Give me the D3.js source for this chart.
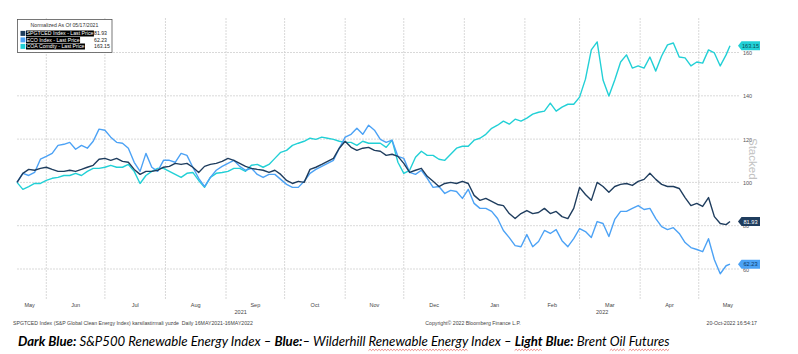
<!DOCTYPE html>
<html>
<head>
<meta charset="utf-8">
<script src="https://cdn.jsdelivr.net/npm/d3@7"></script>
<style>
  body { margin: 0; background: #fff; }
  svg { display: block; }
</style>
</head>
<body>
<svg id="chart" width="798" height="354"></svg>
<script>
// every 3rd calendar day, 17 May 2021 .. 17 May 2022 (normalised to 100 on the first day)
const dates = [
  "2021-05-17","2021-05-20","2021-05-23","2021-05-26","2021-05-29","2021-06-01","2021-06-04","2021-06-07",
  "2021-06-10","2021-06-13","2021-06-16","2021-06-19","2021-06-22","2021-06-25","2021-06-28","2021-07-01",
  "2021-07-04","2021-07-07","2021-07-10","2021-07-13","2021-07-16","2021-07-19","2021-07-22","2021-07-25",
  "2021-07-28","2021-07-31","2021-08-03","2021-08-06","2021-08-09","2021-08-12","2021-08-15","2021-08-18",
  "2021-08-21","2021-08-24","2021-08-27","2021-08-30","2021-09-02","2021-09-05","2021-09-08","2021-09-11",
  "2021-09-14","2021-09-17","2021-09-20","2021-09-23","2021-09-26","2021-09-29","2021-10-02","2021-10-05",
  "2021-10-08","2021-10-11","2021-10-14","2021-10-17","2021-10-20","2021-10-23","2021-10-26","2021-10-29",
  "2021-11-01","2021-11-04","2021-11-07","2021-11-10","2021-11-13","2021-11-16","2021-11-19","2021-11-22",
  "2021-11-25","2021-11-28","2021-12-01","2021-12-04","2021-12-07","2021-12-10","2021-12-13","2021-12-16",
  "2021-12-19","2021-12-22","2021-12-25","2021-12-28","2021-12-31","2022-01-03","2022-01-06","2022-01-09",
  "2022-01-12","2022-01-15","2022-01-18","2022-01-21","2022-01-24","2022-01-27","2022-01-30","2022-02-02",
  "2022-02-05","2022-02-08","2022-02-11","2022-02-14","2022-02-17","2022-02-20","2022-02-23","2022-02-26",
  "2022-03-01","2022-03-04","2022-03-07","2022-03-10","2022-03-13","2022-03-16","2022-03-19","2022-03-22",
  "2022-03-25","2022-03-28","2022-03-31","2022-04-03","2022-04-06","2022-04-09","2022-04-12","2022-04-15",
  "2022-04-18","2022-04-21","2022-04-24","2022-04-27","2022-04-30","2022-05-03","2022-05-06","2022-05-09",
  "2022-05-12","2022-05-15","2022-05-17"
];

const spgtced = [
  100,104.2,106.0,105.6,106.5,107.0,106.0,105.1,105.1,105.6,105.1,106.0,107.0,107.9,110.7,111.1,
  110.2,111.1,109.7,109.3,106.0,103.7,105.1,105.1,105.6,107.0,107.4,108.8,108.3,108.8,107.0,104.6,
  107.4,108.3,108.8,109.7,111.1,110.2,108.8,107.4,106.5,106.0,105.6,104.6,105.6,103.7,100.9,99.5,
  100.5,100.0,106.0,107.0,108.3,109.7,111.1,115.8,119.0,116.2,114.8,115.8,116.2,114.8,114.4,112.5,
  113.0,112.0,108.8,104.6,105.6,106.5,102.8,100.5,98.1,99.5,100.0,99.5,100.5,99.5,94.0,91.7,
  92.6,91.2,89.8,89.3,85.6,83.3,85.6,87.0,85.6,86.1,88.0,85.6,86.6,84.2,83.3,88.0,
  97.7,94.4,91.7,100.0,98.1,95.4,98.1,99.1,99.5,98.6,100.5,101.4,104.2,101.4,99.1,98.1,
  98.1,97.2,93.0,89.3,90.3,88.9,93.0,84.2,81.0,80.5,81.93
];

const eco = [
  100,104.2,103.2,104.6,110.7,112.0,113.4,117.1,117.6,118.5,115.3,117.1,115.8,119.0,124.6,124.1,
  120.9,118.5,118.1,115.8,109.3,105.1,113.4,107.0,105.1,110.2,110.2,109.3,113.4,112.5,107.0,101.9,
  98.1,102.3,105.6,107.4,108.8,110.2,107.4,105.6,106.5,103.7,102.3,103.7,103.7,101.4,99.1,97.7,
  97.7,100.5,104.2,106.0,107.4,108.8,110.2,115.8,120.9,122.2,125.0,122.2,126.4,124.1,119.9,118.5,
  119.5,112.0,111.1,104.6,103.7,105.6,101.9,97.7,98.1,94.9,96.3,95.8,92.6,96.8,90.3,88.0,
  88.0,86.6,83.3,77.8,74.5,70.8,70.3,75.9,70.3,72.7,77.8,76.4,78.2,73.1,70.3,74.0,
  78.7,77.3,74.5,81.9,81.0,75.0,82.9,86.6,86.6,88.0,89.3,87.5,88.0,83.3,79.6,78.2,
  79.1,76.4,72.2,69.9,69.0,68.0,74.0,64.3,57.8,61.5,62.23
];

const coa = [
  100,96.8,98.1,99.5,99.5,100.9,101.9,102.3,103.2,103.2,104.2,103.2,105.1,106.5,106.5,107.0,
  107.9,107.0,107.0,108.3,105.1,99.5,103.2,105.1,106.5,106.5,105.1,103.7,102.3,104.2,104.6,100.9,
  97.7,102.3,104.2,104.6,105.1,106.5,106.5,105.1,107.9,108.3,107.0,108.3,111.1,113.9,114.8,117.1,
  118.1,119.0,120.4,119.9,120.9,120.4,119.9,119.0,118.5,118.5,117.1,119.0,118.1,118.1,118.1,116.2,
  119.5,109.3,104.2,105.6,111.6,114.4,112.5,112.5,110.7,110.2,113.0,115.8,116.7,116.7,119.5,120.4,
  122.2,125.0,126.4,128.3,126.9,129.2,128.3,129.7,131.5,132.4,132.9,136.6,132.9,134.8,136.1,136.1,
  139.4,147.7,161.2,164.9,147.3,139.9,147.3,155.6,158.9,152.8,153.8,152.8,157.9,151.4,158.4,163.5,
  164.4,157.9,157.5,153.8,155.6,155.1,161.2,159.8,153.8,158.9,163.15
];

const seriesNames = ["SPGTCED Index - Last Price", "ECO Index - Last Price", "COA Comdty - Last Price"];
const lastPrices = ["81.93", "62.23", "163.15"];
const seriesColors = ["#1f3d5e", "#4ca2f5", "#22d0d6"];
const tagTextColors = ["#ffffff", "#0d3a66", "#0b4f55"];
const yTicks = [60, 80, 100, 120, 140, 160];
const monthLabels = ["May","Jun","Jul","Aug","Sep","Oct","Nov","Dec","Jan","Feb","Mar","Apr","May"];
const yearLabels = ["2021", "2022"];

const parse = d3.timeParse("%Y-%m-%d");
const dayList = dates.map(parse);
const start = dayList[0], end = dayList[dayList.length - 1];

const svg = d3.select("#chart");
const smallFont = "'Liberation Sans', Arial, sans-serif";

const x = d3.scaleTime().domain([start, end]).range([17, 730]);
const y = d3.scaleLinear().domain([60, 160]).range([269, 52.5]);

// grid
const monthStarts = d3.timeMonth.range(d3.timeMonth.ceil(start), end);
svg.append("g").selectAll("line")
  .data(monthStarts).enter().append("line")
  .attr("x1", d => x(d)).attr("x2", d => x(d))
  .attr("y1", 18).attr("y2", 300)
  .attr("stroke", "#cfcfcf").attr("stroke-width", 0.8)
  .attr("stroke-dasharray", "2,1");

svg.append("g").selectAll("line")
  .data(yTicks).enter().append("line")
  .attr("x1", 17).attr("x2", 740)
  .attr("y1", d => y(d)).attr("y2", d => y(d))
  .attr("stroke", "#cfcfcf").attr("stroke-width", 0.8)
  .attr("stroke-dasharray", "2,1");

// right axis labels
svg.append("g").selectAll("text")
  .data(yTicks).enter().append("text")
  .attr("x", 743).attr("y", d => y(d) + 2.5)
  .attr("font-family", smallFont).attr("font-size", 5.5)
  .attr("fill", "#555").text(d => d);

svg.append("text")
  .attr("transform", "translate(749,138) rotate(90)")
  .attr("font-family", "'Liberation Sans', Arial, sans-serif")
  .attr("font-size", 11.5).attr("fill", "#c2c2c2")
  .text("Stacked");

// month + year labels along the bottom
const leftEdge = 13, rightEdge = 757;
const bounds = [leftEdge].concat(monthStarts.map(x), [rightEdge]);
svg.append("g").selectAll("text")
  .data(monthLabels).enter().append("text")
  .attr("x", (d, i) => (bounds[i] + bounds[i + 1]) / 2)
  .attr("y", 307)
  .attr("text-anchor", "middle")
  .attr("font-family", smallFont).attr("font-size", 5.5)
  .attr("fill", "#444").text(d => d);

const jan1 = x(parse("2022-01-01"));
const yearPos = [(17 + jan1) / 2, (jan1 + 740) / 2];
svg.append("g").selectAll("text")
  .data(yearLabels).enter().append("text")
  .attr("x", (d, i) => yearPos[i]).attr("y", 314)
  .attr("text-anchor", "middle")
  .attr("font-family", smallFont).attr("font-size", 5.5)
  .attr("fill", "#444").text(d => d);

// lines
const allSeries = [spgtced, eco, coa];
const line = d3.line()
  .x((d, i) => x(dayList[i]))
  .y(d => y(d));

// draw order: oil at the back, then ECO, then SPGTCED on top
[2, 1, 0].forEach(function(k) {
  svg.append("path")
    .datum(allSeries[k])
    .attr("fill", "none")
    .attr("stroke", seriesColors[k])
    .attr("stroke-width", 1.4)
    .attr("stroke-linejoin", "round")
    .attr("d", line);
});

// last price tags
allSeries.forEach(function(s, k) {
  const v = s[s.length - 1];
  const yc = y(v);
  const g = svg.append("g");
  g.append("path")
    .attr("d", `M738,${yc} L741.5,${yc - 4.5} L760,${yc - 4.5} L760,${yc + 4.5} L741.5,${yc + 4.5} Z`)
    .attr("fill", seriesColors[k]);
  g.append("text")
    .attr("x", 750.5).attr("y", yc + 2)
    .attr("text-anchor", "middle")
    .attr("font-family", smallFont).attr("font-size", 5.6)
    .attr("fill", tagTextColors[k])
    .text(lastPrices[k]);
});

// legend
const lg = svg.append("g");
lg.append("rect")
  .attr("x", 17.5).attr("y", 19.5).attr("width", 94.5).attr("height", 33)
  .attr("fill", "#fff").attr("stroke", "#555").attr("stroke-width", 0.8);
lg.append("text")
  .attr("x", 64.5).attr("y", 27)
  .attr("text-anchor", "middle")
  .attr("font-family", smallFont).attr("font-size", 5.2)
  .attr("fill", "#333").text("Normalized As Of 05/17/2021");

seriesNames.forEach(function(name, k) {
  const yc = 33.5 + k * 6.5;
  lg.append("rect")
    .attr("x", 20.5).attr("y", yc - 2.6).attr("width", 4.8).attr("height", 5)
    .attr("fill", seriesColors[k]);
  const bg = lg.append("rect")
    .attr("x", 26).attr("y", yc - 3).attr("height", 6).attr("fill", "#000");
  const t = lg.append("text")
    .attr("x", 26.5).attr("y", yc + 1.9)
    .attr("font-family", smallFont).attr("font-size", 5.2)
    .attr("fill", "#fff").text(name);
  bg.attr("width", t.node().getComputedTextLength() + 1);
  lg.append("text")
    .attr("x", 94).attr("y", yc + 1.9)
    .attr("font-family", smallFont).attr("font-size", 5.2)
    .attr("fill", "#222").text(lastPrices[k]);
});

// footer
const footer = [
  {x: 13, anchor: "start", text: "SPGTCED Index (S&P Global Clean Energy Index) karsilastirmali yuzde  Daily 16MAY2021-16MAY2022"},
  {x: 473, anchor: "middle", text: "Copyright\u00A9 2022 Bloomberg Finance L.P."},
  {x: 757, anchor: "end", text: "20-Oct-2022 16:54:17"}
];
svg.append("g").selectAll("text")
  .data(footer).enter().append("text")
  .attr("x", d => d.x).attr("y", 324.5)
  .attr("text-anchor", d => d.anchor)
  .attr("xml:space", "preserve")
  .style("white-space", "pre")
  .attr("font-family", smallFont).attr("font-size", 5.2)
  .attr("fill", "#444").text(d => d.text);

// caption under the chart
const captionParts = [
  {t: "Dark Blue:", b: true},
  {t: " S&P500 Renewable Energy Index \u2013 ", b: false},
  {t: "Blue:", b: true},
  {t: "\u2013 Wilderhill Renewable Energy Index \u2013 ", b: false},
  {t: "Light Blue:", b: true},
  {t: " Brent Oil Futures", b: false}
];
const cap = svg.append("text")
  .attr("x", 18).attr("y", 346)
  .attr("font-family", "Lato, 'Noto Sans', sans-serif")
  .attr("font-style", "italic")
  .attr("font-size", 13)
  .style("white-space", "pre")
  .attr("fill", "#000");
cap.selectAll("tspan")
  .data(captionParts).enter().append("tspan")
  .attr("font-weight", d => d.b ? "bold" : "normal")
  .text(d => d.t);
const targetWidth = 652;
const w0 = cap.node().getComputedTextLength();
cap.attr("font-size", 13 * targetWidth / w0);

// spell-check style squiggles
const fullCaption = captionParts.map(d => d.t).join("");
const flagged = [
  fullCaption.indexOf("Renewable Energy", fullCaption.indexOf("Wilderhill")),
  fullCaption.indexOf("Light"),
  fullCaption.indexOf("Oil"),
  fullCaption.indexOf("Futures")
];
const flaggedLen = [16, 5, 3, 7];
flagged.forEach(function(idx, j) {
  const n = cap.node();
  const x0 = n.getStartPositionOfChar(idx).x;
  const x1 = n.getEndPositionOfChar(idx + flaggedLen[j] - 1).x;
  const pts = [];
  for (let px = x0, s = 0; px <= x1; px += 1.5, s++) pts.push([px, s % 2 ? 349.2 : 350.6]);
  svg.append("path")
    .attr("d", d3.line()(pts))
    .attr("fill", "none").attr("stroke", "#e0403a").attr("stroke-width", 0.6);
});
</script>
</body>
</html>
